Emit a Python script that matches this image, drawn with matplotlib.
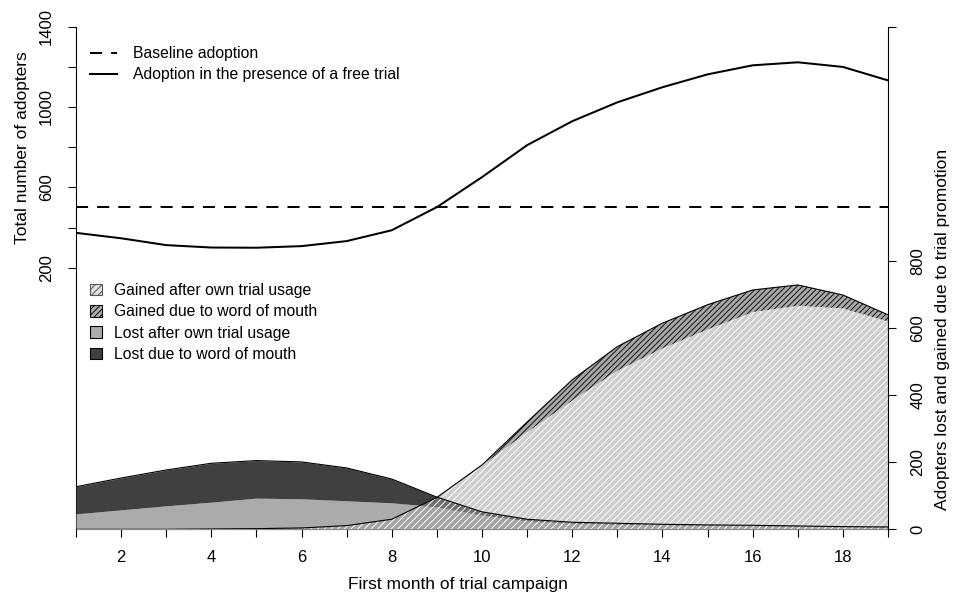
import matplotlib.pyplot as plt
from matplotlib.patches import Patch
from matplotlib.lines import Line2D

plt.rcParams['font.family'] = ['Liberation Sans', 'DejaVu Sans']
plt.rcParams['hatch.linewidth'] = 0.7

# data
months = list(range(1, 20))
baseline_level = 503
trial_adoption = [374, 347, 313, 301, 300, 308, 333, 387, 502, 651, 810, 929,
                  1023, 1098, 1162, 1207, 1222, 1199, 1132]

gained_own = [0, 0, 0, 1, 2, 4, 11, 30, 95, 190, 290, 384, 473, 540, 596, 648, 667, 659, 620]
gained_wom = [0, 0, 0, 0, 0, 0, 0, 0, 0, 2, 30, 62, 72, 75, 74, 66, 62, 40, 20]
lost_own = [46, 58, 70, 81, 93, 91, 85, 79, 67, 42, 25, 18, 15, 13, 11, 10, 8, 7, 5]
lost_wom = [81, 95, 107, 116, 112, 110, 98, 71, 29, 10, 5, 3, 3, 2, 2, 2, 2, 1, 2]

x_labels = [str(m) if m % 2 == 0 else '' for m in months]
left_ticks = [200, 400, 600, 800, 1000, 1200, 1400]
left_labels = ['200', '', '600', '', '1000', '', '1400']
right_ticks = [0, 200, 400, 600, 800, 1500]
right_labels = ['0', '200', '400', '600', '800', '']

lost_total = [a + b for a, b in zip(lost_own, lost_wom)]
gained_total = [a + b for a, b in zip(gained_own, gained_wom)]

W, H = 955, 603
fig = plt.figure(figsize=(W / 100, H / 100), dpi=100)
x0, x1, y0, y1 = 76, 888, 26.5, 529.3
ax = fig.add_axes([x0 / W, 1 - y1 / H, (x1 - x0) / W, (y1 - y0) / H])
ax.set_xlim(1, 19)
ax.set_ylim(-1100, 1400)
axr = ax.twinx()
axr.set_ylim(0, 1500)

# areas on the right scale
axr.fill_between(months, 0, lost_own, color='#ababab', lw=0, zorder=1)
axr.fill_between(months, lost_own, lost_total, color='#404040', lw=0, zorder=1)
axr.fill_between(months, 0, gained_own, facecolor=(0.62, 0.62, 0.62, 0.5),
                 edgecolor='white', hatch='/////', lw=0, zorder=2)
axr.fill_between(months, gained_own, gained_total, facecolor='#a8a8a8',
                 edgecolor='#111111', hatch='//////', lw=0, zorder=2)
axr.plot(months, lost_total, color='black', lw=0.8, zorder=3)
axr.plot(months, gained_total, color='black', lw=0.8, zorder=3)

# lines on the left scale
ax.axhline(baseline_level, color='black', lw=1.45, dashes=(6, 4.5))
ax.plot(months, trial_adoption, color='black', lw=1.45)

# axes styling
for a in (ax, axr):
    a.spines['top'].set_visible(False)
    for s in a.spines.values():
        s.set_linewidth(0.8)
ax.spines['right'].set_visible(False)
axr.spines['left'].set_visible(False)
axr.spines['bottom'].set_visible(False)

ax.set_xticks(months, x_labels)
ax.set_yticks(left_ticks, left_labels)
axr.set_yticks(right_ticks, right_labels)
ax.tick_params(axis='x', length=6, width=0.8, pad=9, labelsize=12)
ax.tick_params(axis='y', length=6, width=0.8, pad=10, labelsize=12, labelrotation=90)
axr.tick_params(axis='y', length=6, width=0.8, pad=10, labelsize=12, labelrotation=90)
for lab in ax.get_yticklabels() + axr.get_yticklabels():
    lab.set_va('center')

ax.set_xlabel('First month of trial campaign', fontsize=12.5, va='center')
ax.xaxis.set_label_coords((458 - x0) / (x1 - x0), -(585 - y1) / (y1 - y0))
ax.set_ylabel('Total number of adopters', fontsize=12.5, va='center')
ax.yaxis.set_label_coords((23 - x0) / (x1 - x0), 1 - (148 - y0) / (y1 - y0))
axr.set_ylabel('Adopters lost and gained due to trial promotion', fontsize=12.5, va='center')
axr.yaxis.set_label_coords((943 - x0) / (x1 - x0), 1 - (329 - y0) / (y1 - y0))

# legends
top_handles = [Line2D([], [], color='black', lw=1.45, dashes=(6, 4.5)),
               Line2D([], [], color='black', lw=1.45)]
ax.legend(top_handles, ['Baseline adoption', 'Adoption in the presence of a free trial'],
          loc='upper left', bbox_to_anchor=(90 / W, 1 - 46 / H),
          bbox_transform=fig.transFigure, frameon=False, fontsize=11.3,
          handlelength=1.75, handletextpad=1.0, borderpad=0, borderaxespad=0,
          labelspacing=0.4)

area_handles = [Patch(facecolor='#e0e0e0', edgecolor='#555555', hatch='/////', lw=0.8),
                Patch(facecolor='#b0b0b0', edgecolor='black', hatch='//////', lw=0.8),
                Patch(facecolor='#ababab', edgecolor='black', lw=0.8),
                Patch(facecolor='#404040', edgecolor='black', lw=0.8)]
axr.legend(area_handles, ['Gained after own trial usage', 'Gained due to word of mouth',
                          'Lost after own trial usage', 'Lost due to word of mouth'],
           loc='upper left', bbox_to_anchor=(90 / W, 1 - 283 / H),
           bbox_transform=fig.transFigure, frameon=False, fontsize=11.3,
           handlelength=0.75, handleheight=0.75, handletextpad=0.8,
           borderpad=0, borderaxespad=0, labelspacing=0.4)

fig.savefig('out.png', dpi=100)
